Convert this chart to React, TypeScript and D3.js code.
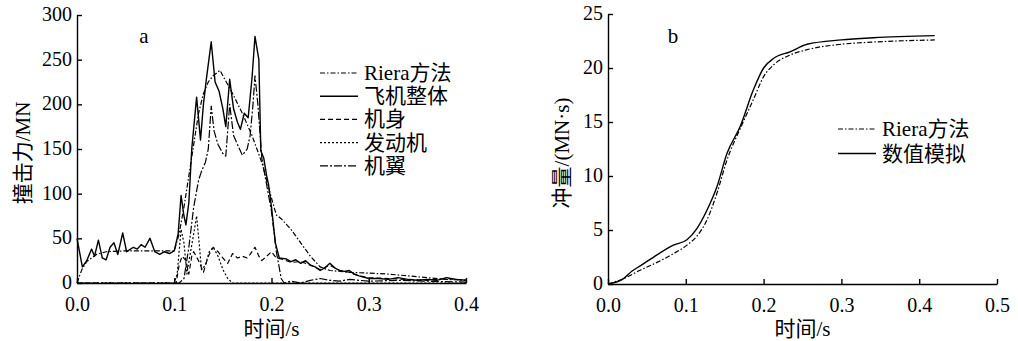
import React, { useEffect, useRef } from 'react'
import * as d3 from 'd3'

// panel a: impact force (MN) against time (s), [t, value]
const rieraForce = [[0, 0], [0.005, 15], [0.01, 24], [0.02, 32], [0.03, 35], [0.05, 36], [0.1, 36], [0.105, 55], [0.11, 85], [0.115, 120], [0.12, 155], [0.125, 190], [0.13, 212], [0.135, 225], [0.14, 232], [0.147, 238], [0.152, 228], [0.16, 212], [0.17, 190], [0.18, 165], [0.19, 135], [0.2, 95], [0.205, 76], [0.21, 72], [0.22, 60], [0.23, 45], [0.24, 30], [0.25, 18], [0.26, 14], [0.28, 12], [0.3, 11], [0.32, 10], [0.34, 8], [0.36, 6], [0.38, 4], [0.4, 3]]
const wholePlane = [[0, 50], [0.0055, 18], [0.01, 25], [0.015, 38], [0.018, 30], [0.022, 48], [0.026, 28], [0.03, 26], [0.034, 40], [0.038, 45], [0.042, 32], [0.047, 56], [0.051, 35], [0.055, 38], [0.058, 40], [0.062, 38], [0.066, 43], [0.07, 40], [0.075, 50], [0.08, 35], [0.085, 32], [0.09, 35], [0.095, 33], [0.1, 36], [0.104, 55], [0.107, 98], [0.11, 75], [0.112, 65], [0.115, 90], [0.118, 150], [0.123, 208], [0.127, 160], [0.13, 200], [0.133, 228], [0.138, 270], [0.142, 225], [0.146, 215], [0.15, 195], [0.153, 175], [0.157, 228], [0.161, 195], [0.165, 180], [0.168, 172], [0.172, 190], [0.176, 185], [0.18, 230], [0.183, 276], [0.187, 250], [0.189, 148], [0.192, 140], [0.195, 120], [0.197, 110], [0.2, 85], [0.204, 45], [0.208, 28], [0.215, 27], [0.22, 24], [0.225, 26], [0.23, 22], [0.235, 25], [0.24, 20], [0.245, 18], [0.25, 14], [0.255, 17], [0.26, 22], [0.265, 17], [0.27, 14], [0.275, 13], [0.28, 14], [0.285, 10], [0.29, 8], [0.3, 5], [0.31, 5], [0.32, 4], [0.33, 6], [0.34, 4], [0.35, 3], [0.36, 4], [0.37, 3], [0.38, 6], [0.39, 4], [0.4, 3]]
const fuselage = [[0, 0], [0.102, 0], [0.105, 20], [0.108, 30], [0.112, 25], [0.115, 10], [0.118, 30], [0.12, 35], [0.125, 25], [0.13, 12], [0.135, 30], [0.14, 40], [0.145, 35], [0.15, 28], [0.155, 22], [0.16, 33], [0.165, 28], [0.17, 30], [0.175, 28], [0.178, 32], [0.183, 40], [0.187, 30], [0.19, 25], [0.195, 30], [0.2, 35], [0.205, 28], [0.21, 27], [0.22, 23], [0.23, 24], [0.24, 20], [0.25, 15], [0.26, 20], [0.27, 14], [0.28, 12], [0.29, 8], [0.3, 6], [0.32, 5], [0.34, 4], [0.36, 3], [0.38, 5], [0.4, 3]]
const engine = [[0, 0], [0.1, 0], [0.103, 10], [0.107, 60], [0.11, 45], [0.113, 10], [0.116, 30], [0.12, 55], [0.123, 75], [0.126, 40], [0.128, 15], [0.132, 20], [0.136, 35], [0.14, 40], [0.145, 30], [0.15, 15], [0.155, 5], [0.16, 0], [0.4, 0]]
const wing = [[0, 0], [0.105, 0], [0.11, 5], [0.115, 40], [0.12, 85], [0.125, 115], [0.128, 125], [0.132, 135], [0.135, 150], [0.138, 198], [0.141, 170], [0.145, 155], [0.15, 145], [0.153, 142], [0.157, 200], [0.161, 165], [0.165, 155], [0.17, 143], [0.175, 150], [0.178, 165], [0.181, 200], [0.183, 232], [0.186, 200], [0.19, 140], [0.195, 110], [0.2, 80], [0.205, 35], [0.21, 5], [0.213, 0], [0.22, 2], [0.23, 0], [0.24, 3], [0.25, 5], [0.26, 3], [0.27, 2], [0.28, 4], [0.3, 2], [0.33, 3], [0.36, 2], [0.4, 1]]

// panel b: impulse (MN·s) against time (s)
const rieraImpulse = [[0, 0], [0.02, 0.5], [0.042, 1.3], [0.063, 2.0], [0.084, 2.8], [0.1015, 3.6], [0.114, 4.4], [0.127, 5.9], [0.14, 8.4], [0.153, 11.5], [0.17, 14.4], [0.187, 17.1], [0.2, 19.2], [0.213, 20.3], [0.234, 21.2], [0.256, 21.7], [0.3, 22.2], [0.341, 22.4], [0.42, 22.6]]
const simImpulse = [[0, 0], [0.02, 0.5], [0.031, 1.2], [0.042, 1.7], [0.063, 2.7], [0.084, 3.6], [0.1015, 4.1], [0.114, 5.1], [0.127, 6.8], [0.14, 9], [0.153, 12.1], [0.17, 14.6], [0.187, 18], [0.2, 20], [0.213, 20.9], [0.234, 21.5], [0.256, 22.2], [0.3, 22.6], [0.341, 22.8], [0.42, 23.0]]

const xTicksA = [0, 0.1, 0.2, 0.3, 0.4]
const yTicksA = [0, 50, 100, 150, 200, 250, 300]
const xTicksB = [0, 0.1, 0.2, 0.3, 0.4, 0.5]
const yTicksB = [0, 5, 10, 15, 20, 25]

const FONT = "'Liberation Serif', 'Noto Sans CJK SC', serif"

const DASH = {
    riera: '5,2,1.5,2',
    solid: null,
    fuselage: '5,3',
    engine: '2,2',
    wing: '8,2,2,2'
}

function drawPanel(svg, p) {
    const x = d3.scaleLinear().domain(p.xDomain).range([p.left, p.right])
    const y = d3.scaleLinear().domain(p.yDomain).range([p.bottom, p.top])

    const xAxis = svg.append('g')
        .attr('transform', `translate(0,${p.bottom})`)
        .call(d3.axisBottom(x).tickValues(p.xTicks).tickFormat(d3.format('.1f'))
            .tickSizeInner(-5).tickSizeOuter(0).tickPadding(14))
    const yAxis = svg.append('g')
        .attr('transform', `translate(${p.left},0)`)
        .call(d3.axisLeft(y).tickValues(p.yTicks).tickFormat(d3.format('d'))
            .tickSizeInner(-5).tickSizeOuter(0).tickPadding(5))

    for (let a of [xAxis, yAxis]) {
        a.selectAll('path, line').attr('stroke', '#000').attr('stroke-width', 1.4)
        a.selectAll('text').attr('fill', '#000').style('font-family', FONT).style('font-size', '20px')
    }
    yAxis.selectAll('text').attr('dy', '0.28em')

    const line = d3.line()
        .x(d => x(d[0]))
        .y(d => y(d[1]))
        .curve(p.curve || d3.curveLinear)

    for (let s of p.series) {
        svg.append('path')
            .datum(s.data)
            .attr('fill', 'none')
            .attr('stroke', '#000')
            .attr('stroke-width', s.width || 1.2)
            .attr('stroke-dasharray', s.dash)
            .attr('stroke-linejoin', 'round')
            .attr('d', line)
    }

    // legend
    p.series.forEach((s, i) => {
        const ly = p.legendY + i * p.legendGap
        svg.append('line')
            .attr('x1', p.legendX).attr('x2', p.legendX + 38)
            .attr('y1', ly).attr('y2', ly)
            .attr('stroke', '#000')
            .attr('stroke-width', s.width || 1.2)
            .attr('stroke-dasharray', s.dash)
        svg.append('text')
            .attr('x', p.legendX + 44).attr('y', ly)
            .attr('dominant-baseline', 'central')
            .style('font-family', FONT).style('font-size', '21px')
            .text(s.label)
    })

    svg.append('text')
        .attr('x', (p.left + p.right) / 2).attr('y', 329)
        .attr('text-anchor', 'middle').attr('dominant-baseline', 'central')
        .style('font-family', FONT).style('font-size', '21px')
        .text('时间/s')

    svg.append('text')
        .attr('transform', `translate(${p.yTitleX},${(p.top + p.bottom) / 2 + 4}) rotate(-90)`)
        .attr('text-anchor', 'middle').attr('dominant-baseline', 'central')
        .style('font-family', FONT).style('font-size', '21px')
        .text(p.yTitle)

    svg.append('text')
        .attr('x', p.tagX).attr('y', 36)
        .attr('text-anchor', 'middle').attr('dominant-baseline', 'central')
        .style('font-family', FONT).style('font-size', '21px')
        .text(p.tag)
}

export default function App() {
    const ref = useRef(null)

    useEffect(() => {
        const svg = d3.select(ref.current)
        svg.selectAll('*').remove()

        drawPanel(svg, {
            left: 77, right: 466, top: 15, bottom: 283,
            xDomain: [0, 0.4], yDomain: [0, 300],
            xTicks: xTicksA, yTicks: yTicksA,
            yTitle: '撞击力/MN', yTitleX: 23,
            tag: 'a', tagX: 144,
            legendX: 320, legendY: 73, legendGap: 23.2,
            series: [
                { label: 'Riera方法', data: rieraForce, dash: DASH.riera },
                { label: '飞机整体', data: wholePlane, dash: DASH.solid, width: 1.4 },
                { label: '机身', data: fuselage, dash: DASH.fuselage },
                { label: '发动机', data: engine, dash: DASH.engine },
                { label: '机翼', data: wing, dash: DASH.wing }
            ]
        })

        drawPanel(svg, {
            left: 608, right: 997, top: 14, bottom: 284,
            xDomain: [0, 0.5], yDomain: [0, 25],
            xTicks: xTicksB, yTicks: yTicksB,
            yTitle: '冲量/(MN·s)', yTitleX: 562,
            tag: 'b', tagX: 673,
            legendX: 838, legendY: 129, legendGap: 24.5,
            curve: d3.curveMonotoneX,
            series: [
                { label: 'Riera方法', data: rieraImpulse, dash: DASH.riera },
                { label: '数值模拟', data: simImpulse, dash: DASH.solid, width: 1.4 }
            ]
        })
    }, [])

    return (
        <svg ref={ref} width={1018} height={341}
            style={{ position: 'absolute', left: 0, top: 0, background: '#fff' }} />
    )
}
